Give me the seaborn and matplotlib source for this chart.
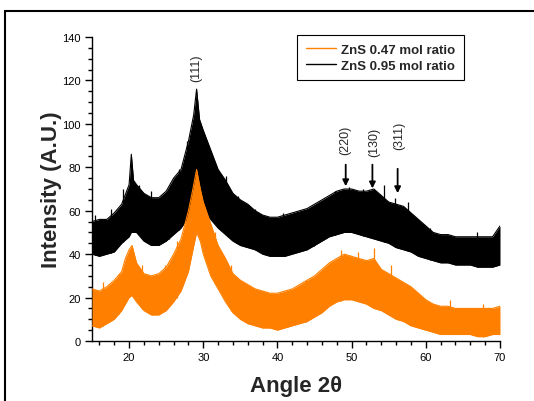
import numpy as np
import pandas as pd
import matplotlib
matplotlib.use("Agg")
import matplotlib.pyplot as plt
from matplotlib.lines import Line2D
from matplotlib.patches import Rectangle
from matplotlib.ticker import MultipleLocator
import seaborn as sns

# angle grid (2 theta) and noise envelope
angle_black = [15, 16, 17, 18, 19, 20, 20.3, 20.6, 21, 22, 23, 24, 25, 26, 27, 28, 28.7, 29.1, 29.5,
               30, 31, 32, 33, 34, 35, 36, 37, 38, 39, 40, 41, 42, 43, 44, 45, 46, 47, 48, 49, 50,
               51, 52, 53, 54, 55, 56, 57, 58, 59, 60, 61, 62, 63, 64, 65, 66, 67, 68, 69, 70]
black_low = [40, 39, 40, 41, 45, 48, 50, 50, 50, 46, 44, 44, 46, 49, 52, 57, 60, 62, 62,
             60, 56, 52, 49, 46, 44, 43, 42, 40, 39, 39, 39, 40, 41, 42, 44, 46, 48, 49, 50, 50,
             49, 48, 47, 46, 45, 43, 42, 41, 39, 38, 37, 36, 36, 35, 35, 35, 34, 34, 34, 35]
black_high = [55, 56, 56, 59, 63, 72, 86, 74, 72, 68, 66, 66, 69, 75, 79, 92, 104, 116, 102,
              97, 88, 79, 74, 68, 65, 63, 60, 58, 57, 57, 58, 59, 60, 61, 63, 65, 67, 69, 70, 70,
              69, 69, 70, 67, 64, 63, 62, 59, 56, 53, 50, 49, 49, 48, 48, 48, 48, 48, 48, 53]

angle_orange = [15, 16, 17, 18, 19, 19.5, 20, 20.4, 21, 22, 23, 24, 25, 26, 27, 28, 28.6, 29.1, 29.6,
                30, 31, 32, 33, 34, 35, 36, 37, 38, 39, 40, 41, 42, 43, 44, 45, 46, 47, 48, 49, 50,
                51, 52, 53, 54, 55, 56, 57, 58, 59, 60, 61, 62, 63, 64, 65, 66, 67, 68, 69, 70]
orange_low = [7, 6, 8, 10, 14, 17, 20, 21, 18, 14, 12, 12, 14, 18, 23, 32, 42, 50, 46,
              40, 30, 24, 18, 13, 10, 8, 7, 6, 6, 5, 6, 7, 8, 9, 11, 13, 16, 18, 19, 19,
              18, 17, 15, 14, 12, 10, 9, 7, 6, 5, 4, 3, 3, 3, 3, 3, 2, 2, 3, 3]
orange_high = [24, 23, 25, 28, 32, 38, 42, 44, 36, 31, 30, 31, 34, 40, 47, 60, 70, 79, 70,
               64, 54, 44, 38, 31, 28, 26, 24, 23, 22, 22, 23, 24, 26, 28, 30, 33, 36, 38, 40, 39,
               38, 37, 38, 33, 31, 29, 27, 25, 22, 19, 17, 16, 16, 15, 15, 15, 15, 15, 15, 16]

# single noise spikes that stick out above the bands
black_spike_angle = [15.4, 17.6, 19.2, 21.3, 22.9, 25.4, 26.7, 27.8, 30.3, 31.4, 33.0, 34.7, 37.0,
                     40.8, 44.9, 47.8, 49.6, 51.5, 54.4, 55.8, 57.6, 60.5, 66.9, 69.8]
black_spike_top = [58, 61, 70, 72, 69, 70, 79, 92, 93, 80, 76, 67, 61, 59, 61, 69, 71, 70, 72, 66,
                   64, 52, 50, 52]
orange_spike_angle = [16.5, 18.6, 21.8, 24.8, 26.4, 31.6, 33.8, 43.8, 48.6, 50.8, 53.0, 55.3, 63.2, 67.7]
orange_spike_top = [27, 31, 35, 35, 46, 50, 35, 28, 42, 41, 43, 35, 19, 17]

peak_labels = ["(111)", "(220)", "(130)", "(311)"]
peak_angle = [29.0, 49.1, 53.0, 56.4]
peak_text_y = [126, 93, 92, 95]
arrow_angle = [None, 49.2, 52.8, 56.2]
arrow_top = [None, 82.5, 82.5, 80.6]
arrow_tip = [None, 70, 69, 66.8]

series_names = ["ZnS 0.47 mol ratio", "ZnS 0.95 mol ratio"]
orange = "#ff8000"

sns.set_theme(style="ticks")
plt.rcParams["font.family"] = ["Liberation Sans", "DejaVu Sans"]

fig = plt.figure(figsize=(5.34, 4.02), dpi=100)
ax = fig.add_axes([92 / 534, 60 / 402, 408 / 534, 304 / 402])

black_df = pd.DataFrame({"angle": angle_black, "low": black_low, "high": black_high})
orange_df = pd.DataFrame({"angle": angle_orange, "low": orange_low, "high": orange_high})

# black pattern first, orange sits on top of it
ax.fill_between(black_df["angle"], black_df["low"], black_df["high"], color="black", lw=0, zorder=1)
sns.lineplot(data=black_df, x="angle", y="high", color="black", lw=0.8, ax=ax, zorder=1)
sns.lineplot(data=black_df, x="angle", y="low", color="black", lw=0.8, ax=ax, zorder=1)
ax.vlines(black_spike_angle, np.interp(black_spike_angle, angle_black, black_low), black_spike_top,
          color="black", lw=0.9, zorder=1)

ax.fill_between(orange_df["angle"], orange_df["low"], orange_df["high"], color=orange, lw=0, zorder=3)
sns.lineplot(data=orange_df, x="angle", y="high", color=orange, lw=0.8, ax=ax, zorder=3)
sns.lineplot(data=orange_df, x="angle", y="low", color=orange, lw=0.8, ax=ax, zorder=3)
ax.vlines(orange_spike_angle, np.interp(orange_spike_angle, angle_orange, orange_low), orange_spike_top,
          color=orange, lw=0.9, zorder=3)

ax.set_xlim(15, 70)
ax.set_ylim(0, 140)
ax.xaxis.set_major_locator(MultipleLocator(10))
ax.xaxis.set_minor_locator(MultipleLocator(2))
ax.yaxis.set_major_locator(MultipleLocator(20))
ax.yaxis.set_minor_locator(MultipleLocator(5))
ax.tick_params(which="major", direction="out", length=5, width=1, labelsize=8, colors="black", pad=3)
ax.tick_params(which="minor", direction="out", length=3, width=1, colors="black")
sns.despine(ax=ax)
for s in ["left", "bottom"]:
    ax.spines[s].set_linewidth(1)
    ax.spines[s].set_color("black")
ax.grid(False)

ax.set_xlabel("Angle 2\u03b8", fontsize=16, fontweight="bold", labelpad=9)
ax.set_ylabel("Intensity (A.U.)", fontsize=16, fontweight="bold", labelpad=0)

for i, lab in enumerate(peak_labels):
    ax.text(peak_angle[i], peak_text_y[i], lab, rotation=90, ha="center", va="center", fontsize=9, zorder=5)
    if arrow_angle[i] is not None:
        ax.annotate("", xy=(arrow_angle[i], arrow_tip[i]), xytext=(arrow_angle[i], arrow_top[i]),
                    arrowprops=dict(arrowstyle="-|>", color="black", lw=1.3, mutation_scale=9), zorder=5)

handles = [Line2D([], [], color=orange, lw=1), Line2D([], [], color="black", lw=1)]
leg = ax.legend(handles, series_names, loc="upper left", bbox_to_anchor=(205 / 408, 1.007),
                borderaxespad=0, frameon=True, fancybox=False, framealpha=1, edgecolor="black",
                prop={"weight": "bold", "size": 9.5}, handlelength=2.3, borderpad=0.65,
                labelspacing=0.3, handletextpad=0.4)
leg.get_frame().set_linewidth(0.8)
leg.set_zorder(6)

# outer frame, partly cut off at the right and bottom
fig.patches.append(Rectangle((5 / 534, -0.1), 1.1, (402 - 12) / 402 + 0.1, transform=fig.transFigure,
                             fill=False, edgecolor="black", lw=1.5, clip_on=False))

fig.savefig("out.png", dpi=100)
